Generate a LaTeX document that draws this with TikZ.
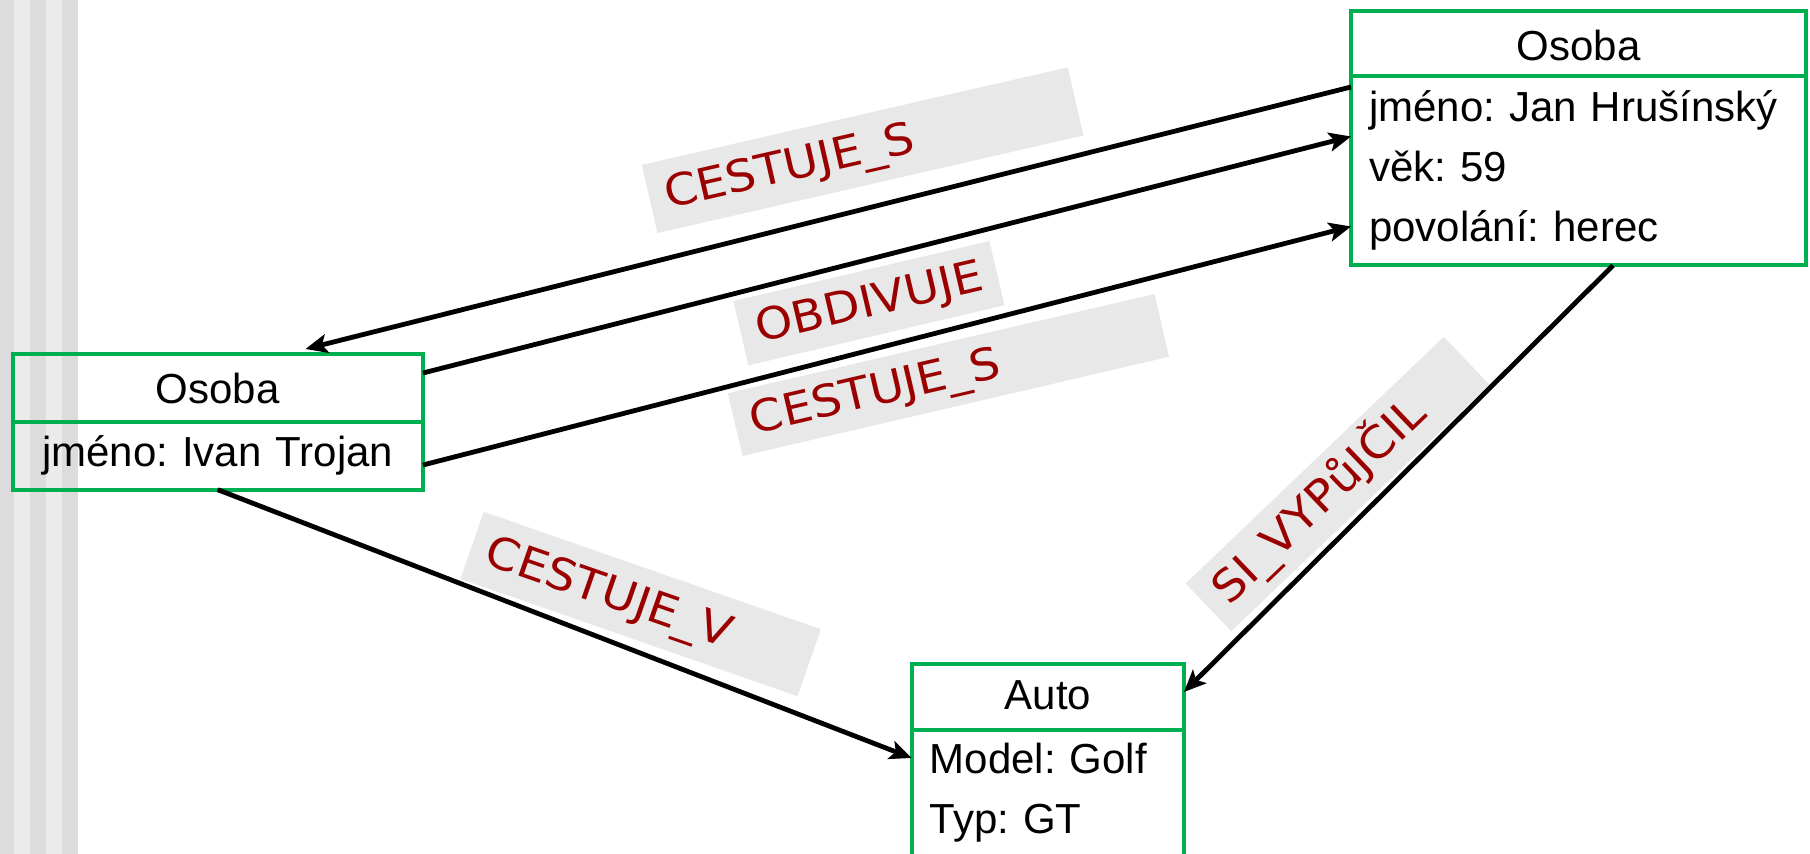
\documentclass[tikz,border=0pt]{standalone}
\usepackage{fontspec}
\setmainfont{Liberation Sans}
\newfontfamily\relfont[FakeStretch=1.08]{DejaVu Sans}
\usepackage{xcolor}
\usepackage{tikz}
\usetikzlibrary{positioning,arrows.meta}
\frenchspacing
\definecolor{boxgreen}{HTML}{00B050}
\definecolor{relred}{HTML}{9B0000}
\definecolor{relgray}{HTML}{E8E8E8}
\definecolor{stripedark}{HTML}{DCDCDC}
\definecolor{stripelight}{HTML}{EBEBEB}
\tikzstyle{headbox} = [rectangle,draw=boxgreen,line width=4pt,inner sep=0pt,outer sep=0pt,font=\fontsize{42}{60}\selectfont,text centered]
\tikzstyle{bodybox} = [rectangle,draw=boxgreen,line width=4pt,inner xsep=18pt,inner ysep=0pt,outer sep=0pt,font=\fontsize{42}{60}\selectfont,align=left]
\tikzstyle{relbox} = [rectangle,fill=relgray,text=relred,font=\relfont\fontsize{44}{50}\selectfont,inner xsep=16pt,inner ysep=0pt,align=left,text height=32pt,text depth=5pt]
\tikzstyle{arrow} = [line width=4.8pt,->,>={Stealth[length=22pt,width=19pt,inset=5pt]}]
\begin{document}
\begin{tikzpicture}[x=1pt,y=1pt]
\useasboundingbox (0,0) rectangle (1810,854);
% stripes on the left
\fill [stripelight] (0,0) rectangle (78,854);
\foreach \x in {-2,30,62} \fill [stripedark] (\x,0) rectangle ++(16,854);

\node (jan) [headbox,minimum width=455pt,text height=49.7pt,text depth=15.5pt,anchor=north west] at (1351,842.7) {Osoba};
\node (janbody) [bodybox,below=0pt of jan,text width=419pt,text height=45.2pt,text depth=143.8pt] {jméno: Jan Hrušínský\\věk: 59\\povolání: herec};

\node (ivan) [headbox,minimum width=410.5pt,text height=49.3pt,text depth=19.2pt,anchor=north west] at (12.5,500) {Osoba};
\node (ivanbody) [bodybox,below=0pt of ivan,text width=374.5pt,align=center,text height=44.2pt,text depth=23pt] {jméno: Ivan Trojan};

\node (auto) [headbox,minimum width=272.3pt,text height=46pt,text depth=20pt,anchor=north west] at (911.7,190) {Auto};
\node (autobody) [bodybox,below=0pt of auto,text width=236.3pt,text height=43.3pt,text depth=83.7pt] {Model: Golf\\Typ: GT};

\node (rel1) [relbox,text width=405pt,minimum height=70pt,rotate=12.9] at (862.6,703.8) {CESTUJE\_S};
\node (rel2) [relbox,text width=231pt,minimum height=66pt,rotate=13.2] at (868.9,550.8) {OBDIVUJE};
\node (rel3) [relbox,text width=406pt,minimum height=64.5pt,rotate=13.1] at (948.5,479) {CESTUJE\_S};
\node (rel4) [relbox,text width=325pt,minimum height=71pt,rotate=-19.2] at (640.6,250) {CESTUJE\_V};
\node (rel5) [relbox,text width=325pt,minimum height=66pt,rotate=43.7] at (1337.5,370) {SI\_VYPůJČIL};

\draw [arrow] ([yshift=-10.5pt]janbody.north west) -- ([xshift=293pt,yshift=5pt]ivan.north west);
\draw [arrow] ([yshift=-19pt]ivan.north east) -- ([yshift=-60pt]janbody.north west);
\draw [arrow] ([yshift=-42.5pt]ivanbody.north east) -- ([yshift=-150pt]janbody.north west);
\draw [arrow] (ivanbody.south) -- ([yshift=-28pt]autobody.north west);
\draw [arrow] ([xshift=262pt]janbody.south west) -- ([yshift=-28pt]auto.north east);
\end{tikzpicture}
\end{document}
